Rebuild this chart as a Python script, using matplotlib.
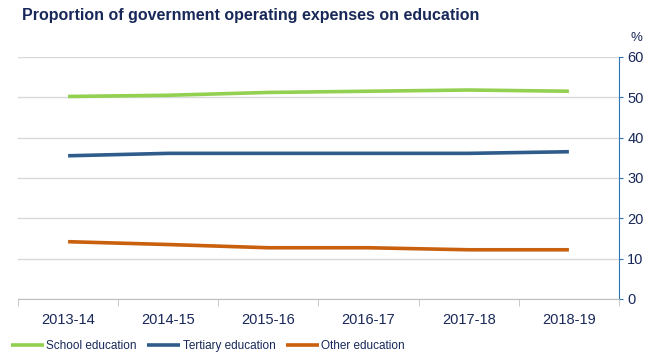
import numpy as np
import matplotlib.pyplot as plt

years = ['2013-14', '2014-15', '2015-16', '2016-17', '2017-18', '2018-19']
school = [50.2, 50.5, 51.2, 51.5, 51.8, 51.5]
tertiary = [35.5, 36.1, 36.1, 36.1, 36.1, 36.5]
other = [14.2, 13.5, 12.7, 12.7, 12.2, 12.2]

names = ['School education', 'Tertiary education', 'Other education']
colours = ['#92D050', '#2F5C8A', '#C8600E']

plt.rcParams['font.family'] = ['Liberation Sans', 'DejaVu Sans']

navy = '#182859'

fig = plt.figure(figsize=(6.67, 3.57), dpi=100)
ax = fig.add_axes([0.027, 0.1625, 0.901, 0.678])

x = np.arange(len(years))
for vals, name, col in zip([school, tertiary, other], names, colours):
    ax.plot(x, vals, color=col, lw=2.6, label=name, solid_capstyle='butt')

ax.set_xlim(-0.5, len(years) - 0.5)
ax.set_ylim(0, 60)
ax.set_yticks(range(0, 61, 10))
ax.yaxis.tick_right()
ax.grid(axis='y', color='#D9D9D9', lw=1)
ax.set_axisbelow(True)

ax.set_xticks(x)
ax.set_xticklabels(years)
ax.set_xticks(np.arange(-0.5, len(years), 1), minor=True)
ax.tick_params(axis='x', which='major', length=0, pad=10, labelsize=10.5, labelcolor=navy)
ax.tick_params(axis='x', which='minor', length=5, color='#BFBFBF', direction='out')
ax.tick_params(axis='y', length=3, color='#2E75B6', labelsize=10.5, labelcolor=navy, pad=3)

for s in ['top', 'left']:
    ax.spines[s].set_visible(False)
ax.spines['right'].set_color('#2E75B6')
ax.spines['bottom'].set_color('#BFBFBF')

fig.text(0.954, 0.885, '%', fontsize=9.5, color=navy, ha='center')
fig.text(0.033, 0.945, 'Proportion of government operating expenses on education',
         fontsize=11.5, fontweight='bold', color=navy)

leg = fig.legend(loc='lower left', bbox_to_anchor=(0.0, -0.015), ncol=3, frameon=False,
                 fontsize=8.5, handlelength=2.8, handletextpad=0.2, columnspacing=0.9)
for t in leg.get_texts():
    t.set_color(navy)

fig.savefig('out.png', dpi=100)
